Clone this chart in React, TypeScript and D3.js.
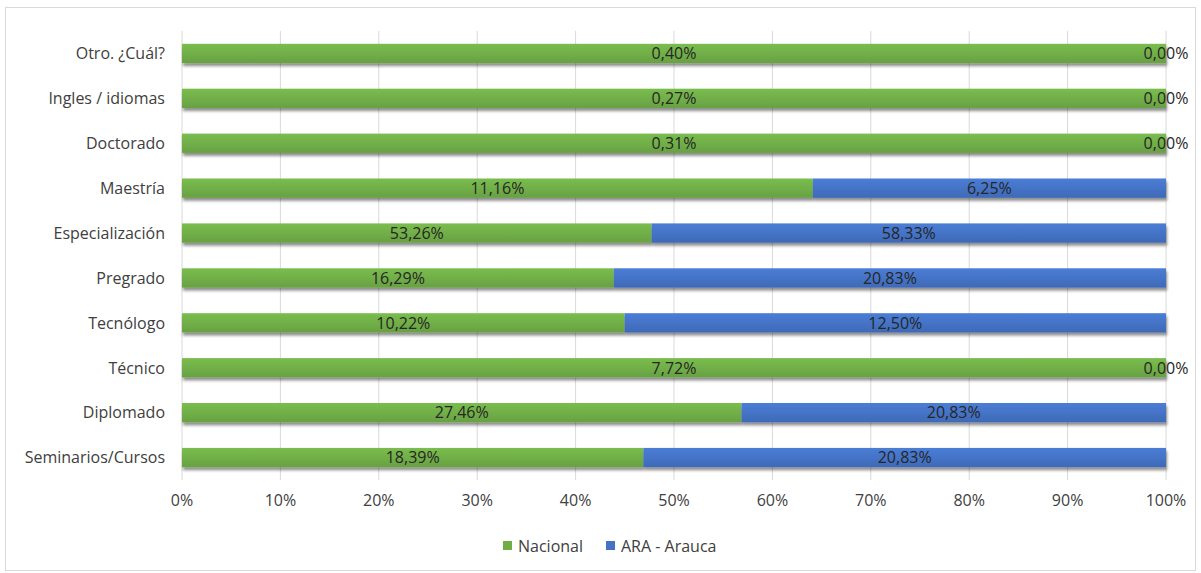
import React, { useEffect, useRef } from 'react'
import * as d3 from 'd3'

const categories = [
    'Otro. ¿Cuál?',
    'Ingles / idiomas',
    'Doctorado',
    'Maestría',
    'Especialización',
    'Pregrado',
    'Tecnólogo',
    'Técnico',
    'Diplomado',
    'Seminarios/Cursos',
]
const nacional = [0.4, 0.27, 0.31, 11.16, 53.26, 16.29, 10.22, 7.72, 27.46, 18.39]
const arauca = [0.0, 0.0, 0.0, 6.25, 58.33, 20.83, 12.5, 0.0, 20.83, 20.83]
const seriesNames = ['Nacional', 'ARA - Arauca']
const seriesColors = ['#70AD47', '#4472C4']
const xTicks = [0, 0.1, 0.2, 0.3, 0.4, 0.5, 0.6, 0.7, 0.8, 0.9, 1]

const W = 1201
const H = 573
const margin = { top: 31, right: 35, bottom: 93, left: 182 }
const FONT = '"Open Sans", Lato, sans-serif'
const FS = 16

const fmt = (v: number) => v.toFixed(2).replace('.', ',') + '%'

export default function App() {
    const svgRef = useRef<SVGSVGElement | null>(null)

    useEffect(() => {
        const svg = d3.select(svgRef.current)
        svg.selectAll('*').remove()

        const rows = categories.map((c, i) => {
            const total = nacional[i] + arauca[i]
            return { cat: c, vals: [nacional[i], arauca[i]], total }
        })

        const x = d3.scaleLinear().domain([0, 1]).range([margin.left, W - margin.right])
        const y = d3
            .scaleBand()
            .domain(categories)
            .range([margin.top, H - margin.bottom])
            .paddingInner(0.57)
            .paddingOuter(0.285)

        // background + border
        svg.append('rect')
            .attr('x', 5.5)
            .attr('y', 7.5)
            .attr('width', W - 11)
            .attr('height', H - 10)
            .attr('fill', 'white')
            .attr('stroke', '#d9d9d9')

        const defs = svg.append('defs')
        const shadow = defs.append('filter').attr('id', 'shadow').attr('height', '180%')
        shadow.append('feGaussianBlur').attr('in', 'SourceAlpha').attr('stdDeviation', 1.6)
        shadow.append('feOffset').attr('dx', 1).attr('dy', 3).attr('result', 'ob')
        shadow.append('feComponentTransfer').append('feFuncA').attr('type', 'linear').attr('slope', 0.45)
        const merge = shadow.append('feMerge')
        merge.append('feMergeNode')
        merge.append('feMergeNode').attr('in', 'SourceGraphic')

        seriesColors.forEach((c, i) => {
            const g = defs.append('linearGradient').attr('id', 'grad' + i).attr('x1', 0).attr('y1', 0).attr('x2', 0).attr('y2', 1)
            g.append('stop').attr('offset', '0%').attr('stop-color', d3.color(c)!.brighter(0.25).formatHex())
            g.append('stop').attr('offset', '100%').attr('stop-color', d3.color(c)!.darker(0.2).formatHex())
        })

        // gridlines
        svg.append('g')
            .selectAll('line')
            .data(xTicks)
            .join('line')
            .attr('x1', (d) => x(d))
            .attr('x2', (d) => x(d))
            .attr('y1', margin.top)
            .attr('y2', H - margin.bottom)
            .attr('stroke', '#d9d9d9')
            .attr('stroke-width', 1)

        // bars
        const barG = svg.append('g').attr('filter', 'url(#shadow)')
        rows.forEach((r) => {
            let acc = 0
            r.vals.forEach((v, si) => {
                const x0 = x(acc / r.total)
                acc += v
                const x1 = x(acc / r.total)
                if (x1 - x0 > 0) {
                    barG.append('rect')
                        .attr('x', x0)
                        .attr('y', y(r.cat)!)
                        .attr('width', x1 - x0)
                        .attr('height', y.bandwidth())
                        .attr('fill', `url(#grad${si})`)
                }
            })
        })

        // labels
        const lblG = svg.append('g')
            .attr('font-family', FONT)
            .attr('font-size', FS)
            .attr('fill', '#262626')
            .attr('text-anchor', 'middle')
        rows.forEach((r) => {
            let acc = 0
            r.vals.forEach((v) => {
                const x0 = x(acc / r.total)
                acc += v
                const x1 = x(acc / r.total)
                lblG.append('text')
                    .attr('x', (x0 + x1) / 2)
                    .attr('y', y(r.cat)! + y.bandwidth() / 2)
                    .attr('dy', '0.36em')
                    .text(fmt(v))
            })
        })

        // y axis labels
        svg.append('g')
            .attr('font-family', FONT)
            .attr('font-size', FS)
            .attr('fill', '#404040')
            .attr('text-anchor', 'end')
            .selectAll('text')
            .data(categories)
            .join('text')
            .attr('x', margin.left - 17)
            .attr('y', (d) => y(d)! + y.bandwidth() / 2)
            .attr('dy', '0.36em')
            .text((d) => d)

        // x axis labels
        svg.append('g')
            .attr('font-family', FONT)
            .attr('font-size', FS)
            .attr('fill', '#404040')
            .attr('text-anchor', 'middle')
            .selectAll('text')
            .data(xTicks)
            .join('text')
            .attr('x', (d) => x(d))
            .attr('y', H - margin.bottom + 26)
            .text((d) => d3.format('.0%')(d))

        // legend
        const lg = svg.append('g').attr('font-family', FONT).attr('font-size', FS).attr('fill', '#404040')
        const legendX = [503, 606]
        seriesNames.forEach((n, i) => {
            lg.append('rect')
                .attr('x', legendX[i])
                .attr('y', 541)
                .attr('width', 9)
                .attr('height', 9)
                .attr('fill', seriesColors[i])
            lg.append('text')
                .attr('x', legendX[i] + 15)
                .attr('y', 546)
                .attr('dy', '0.36em')
                .text(n)
        })
    }, [])

    return <svg ref={svgRef} width={W} height={H} style={{ display: 'block', position: 'absolute', left: 0, top: 0 }} />
}
